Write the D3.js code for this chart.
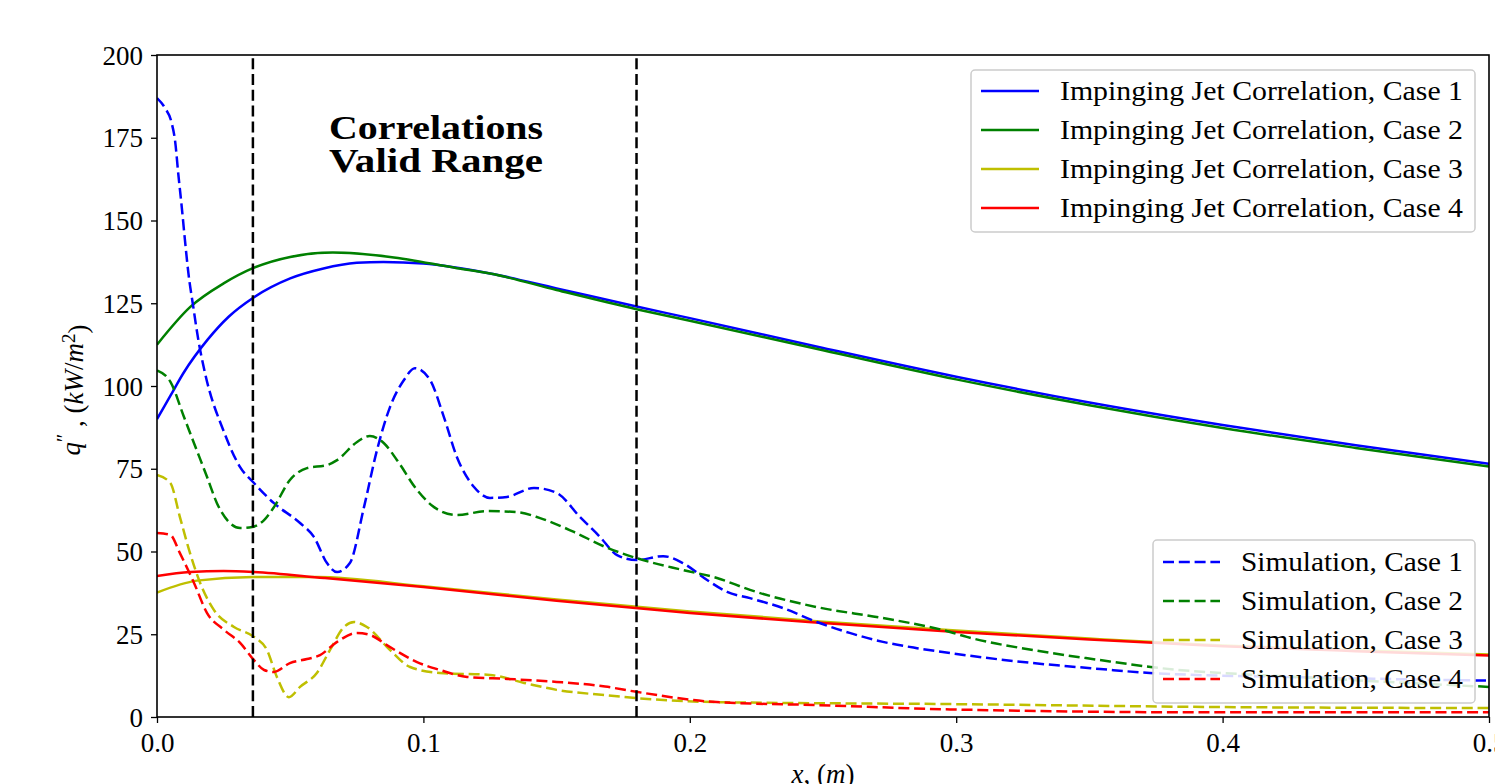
<!DOCTYPE html>
<html>
<head>
<meta charset="utf-8">
<script src="https://cdn.jsdelivr.net/npm/d3@7"></script>
<style>
  html, body { margin: 0; padding: 0; background: #fff; overflow: hidden; }
  svg text { font-family: "Liberation Serif", "Times New Roman", serif; }
</style>
</head>
<body>
<svg id="chart" width="1495" height="784"></svg>
<script>
// ---------------- data ----------------
const xTicks = [0.0, 0.1, 0.2, 0.3, 0.4, 0.5];
const yTicks = [0, 25, 50, 75, 100, 125, 150, 175, 200];
const validRange = [0.036, 0.18];

const corrCase1 = [[0,90],[0.005,97],[0.01,104],[0.019,114],[0.027,121],[0.036,126.6],[0.05,132.5],[0.0625,135.5],[0.075,137.2],[0.085,137.5],[0.1,137],[0.125,134],[0.15,129.5],[0.18,124],[0.2,120.5],[0.25,111.5],[0.3,102.8],[0.35,95],[0.4,88.2],[0.45,82.1],[0.5,76.5]];
const corrCase2 = [[0,112.5],[0.0125,123.9],[0.025,131],[0.036,135.6],[0.05,139],[0.066,140.3],[0.0875,139],[0.1126,135.6],[0.125,134],[0.15,129],[0.18,123.2],[0.2,119.7],[0.25,110.8],[0.3,102],[0.35,94.2],[0.4,87.3],[0.45,81.3],[0.5,75.7]];
const corrCase3 = [[0,37.6],[0.015,41.2],[0.036,42.3],[0.06,42.3],[0.1,39.5],[0.15,35.5],[0.2,31.9],[0.25,28.8],[0.3,26.1],[0.35,23.7],[0.4,21.6],[0.45,20.2],[0.5,18.9]];
const corrCase4 = [[0,42.6],[0.0124,43.8],[0.025,44.1],[0.0364,43.8],[0.0627,42],[0.1,39.3],[0.15,35.1],[0.2,31.4],[0.25,28.4],[0.3,25.7],[0.35,23.4],[0.4,21.4],[0.45,19.9],[0.5,18.6]];

const simCase1 = [[0,187],[0.003,184],[0.0055,179.5],[0.0068,174],[0.008,164],[0.0093,154],[0.0105,144],[0.0118,134],[0.0136,124],[0.0155,114],[0.018,104],[0.0252,86],[0.0312,75.5],[0.0364,70.7],[0.0439,64.6],[0.0537,58.6],[0.0589,54.4],[0.0638,46.5],[0.0676,43.8],[0.0724,46.5],[0.0777,63.4],[0.0826,80.7],[0.0875,93.7],[0.0927,101.8],[0.0968,105.4],[0.1025,101.8],[0.1077,90.6],[0.1126,78.5],[0.119,69.5],[0.125,66.2],[0.1314,66.5],[0.1415,69.2],[0.15,67.7],[0.1588,60.4],[0.1663,54.4],[0.1727,48.9],[0.18,47.4],[0.19,48.6],[0.1974,46.5],[0.2065,41.4],[0.214,37.8],[0.2226,35.9],[0.235,32.9],[0.2477,28.7],[0.26,25.4],[0.2725,22.7],[0.2853,20.8],[0.2977,19.3],[0.3288,16.3],[0.354,14.5],[0.3727,13.3],[0.43,12],[0.5,11]];
const simCase2 = [[0,104.7],[0.005,101.3],[0.0101,90.7],[0.0139,82.7],[0.0188,72.5],[0.0225,64.6],[0.0274,58.6],[0.0312,57.1],[0.0357,57.4],[0.0402,59.5],[0.0439,63.4],[0.0499,71.6],[0.0563,75.2],[0.0638,76.1],[0.0676,77.6],[0.0751,83.1],[0.0799,84.9],[0.0852,82.7],[0.0901,77.6],[0.0976,68.6],[0.104,63.4],[0.1126,61],[0.1239,62.2],[0.1351,61.9],[0.1438,60.1],[0.1565,55.9],[0.1682,51.4],[0.18,48],[0.1974,44.4],[0.2102,42],[0.2226,38.4],[0.2477,33.2],[0.2725,29.9],[0.2977,25.7],[0.304,24.2],[0.329,20.2],[0.354,17.2],[0.373,15.1],[0.43,12],[0.5,9.1]];
const simCase3 = [[0,73.1],[0.005,70.7],[0.0086,60.4],[0.0124,49.5],[0.0162,40.5],[0.0214,32.3],[0.0289,27.2],[0.0364,24.2],[0.0413,20.2],[0.045,12.1],[0.0495,6.0],[0.0537,9.1],[0.06,13.3],[0.0649,20.2],[0.0702,27.2],[0.074,28.7],[0.0788,27.2],[0.0875,20.2],[0.095,15.1],[0.1062,13.3],[0.125,12.7],[0.1378,10.3],[0.15,8.2],[0.1682,6.6],[0.18,5.7],[0.21,4.5],[0.2977,3.9],[0.4,3.0],[0.5,2.7]];
const simCase4 = [[0,55.6],[0.005,55],[0.0086,49.5],[0.0139,40.5],[0.0188,31.4],[0.0252,26.3],[0.0312,22.4],[0.0364,17.2],[0.0402,14.2],[0.0439,13.6],[0.0499,16.3],[0.0563,17.5],[0.0612,18.7],[0.0676,22.7],[0.0751,25.4],[0.0799,24.8],[0.0875,21.1],[0.0976,16.6],[0.1062,14.2],[0.1164,12.1],[0.1314,11.5],[0.15,10.6],[0.1682,9.2],[0.18,7.6],[0.21,4.5],[0.2477,3.6],[0.2977,2.3],[0.4,1.4],[0.5,1.4]];

const corrLabels = ["Impinging Jet Correlation, Case 1","Impinging Jet Correlation, Case 2","Impinging Jet Correlation, Case 3","Impinging Jet Correlation, Case 4"];
const simLabels = ["Simulation, Case 1","Simulation, Case 2","Simulation, Case 3","Simulation, Case 4"];
const annotationLines = ["Correlations", "Valid Range"];
const caseColors = ["#0000ff", "#008000", "#bfbf00", "#ff0000"];

// ---------------- layout ----------------
const svg = d3.select("#chart");
const L = 157, R = 1489, T = 55, B = 717;
const x = d3.scaleLinear().domain([0, 0.5]).range([L, R]);
const y = d3.scaleLinear().domain([0, 200]).range([B, T]);
const DASH = "11,4.8";

svg.append("defs").append("clipPath").attr("id", "clip")
  .append("rect").attr("x", L).attr("y", T).attr("width", R - L).attr("height", B - T);

const line = d3.line().x(d => x(d[0])).y(d => y(d[1])).curve(d3.curveMonotoneX);
const g = svg.append("g").attr("clip-path", "url(#clip)");

[corrCase1, corrCase2, corrCase3, corrCase4].forEach((s, i) => {
  g.append("path").datum(s).attr("d", line)
    .attr("fill", "none").attr("stroke", caseColors[i]).attr("stroke-width", 2.5);
});
[simCase1, simCase2, simCase3, simCase4].forEach((s, i) => {
  g.append("path").datum(s).attr("d", line)
    .attr("fill", "none").attr("stroke", caseColors[i]).attr("stroke-width", 2.5)
    .attr("stroke-dasharray", DASH);
});
validRange.forEach(v => {
  g.append("line").attr("x1", x(v)).attr("x2", x(v)).attr("y1", y(0)).attr("y2", y(200))
    .attr("stroke", "#000").attr("stroke-width", 2.5).attr("stroke-dasharray", DASH);
});

// ---------------- axes ----------------
const xAxis = d3.axisBottom(x).tickValues(xTicks).tickFormat(d3.format(".1f")).tickSizeOuter(0).tickSize(6);
const yAxis = d3.axisLeft(y).tickValues(yTicks).tickFormat(d3.format("d")).tickSizeOuter(0).tickSize(6).tickPadding(8);
const gx = svg.append("g").attr("transform", `translate(0,${B})`).call(xAxis);
const gy = svg.append("g").attr("transform", `translate(${L},0)`).call(yAxis);
[gx, gy].forEach(a => {
  a.select(".domain").remove();
  a.selectAll(".tick line").attr("stroke", "#000").attr("stroke-width", 1.3);
  a.selectAll(".tick text").attr("fill", "#000").style("font-size", "27px");
});
gy.selectAll(".tick text").attr("dy", "0.34em");
gx.selectAll(".tick text").attr("y", 35).attr("dy", 0);

// frame
svg.append("rect").attr("x", L).attr("y", T).attr("width", R - L).attr("height", B - T)
  .attr("fill", "none").attr("stroke", "#000").attr("stroke-width", 1.6);

// axis labels
const xl = svg.append("text").attr("x", (L + R) / 2).attr("y", 783).attr("text-anchor", "middle")
  .style("font-size", "27px");
xl.append("tspan").style("font-style", "italic").text("x");
xl.append("tspan").text(", (");
xl.append("tspan").style("font-style", "italic").text("m");
xl.append("tspan").text(")");

const yl = svg.append("text").attr("transform", `translate(80,${(T + B) / 2 + 4}) rotate(-90)`)
  .attr("text-anchor", "middle").style("font-size", "27px");
yl.append("tspan").style("font-style", "italic").text("q");
yl.append("tspan").attr("dy", "-0.45em").style("font-size", "20px").text("″");
yl.append("tspan").attr("dy", "0.45em").text(" , (");
yl.append("tspan").style("font-style", "italic").text("kW");
yl.append("tspan").text("/");
yl.append("tspan").style("font-style", "italic").text("m");
yl.append("tspan").attr("dy", "-0.45em").style("font-size", "19px").text("2");
yl.append("tspan").attr("dy", "0.45em").text(")");

// annotation
const ann = svg.append("text").attr("text-anchor", "middle").style("font-size", "33px").style("font-weight", "bold");
annotationLines.forEach((t, i) => {
  ann.append("tspan").attr("x", 436).attr("y", 139 + i * 33)
    .attr("textLength", 214).attr("lengthAdjust", "spacingAndGlyphs").text(t);
});

// ---------------- legends ----------------
function legend(box, labels, dashed, sampleX0, sampleX1, textX, rowY0, rowStep, fontSize, textW) {
  const lg = svg.append("g");
  lg.append("rect").attr("x", box[0]).attr("y", box[1]).attr("width", box[2] - box[0]).attr("height", box[3] - box[1])
    .attr("rx", 4).attr("fill", "#fff").attr("fill-opacity", 0.85).attr("stroke", "#cccccc").attr("stroke-width", 1.5);
  labels.forEach((lab, i) => {
    const yy = rowY0 + i * rowStep;
    const ln = lg.append("line").attr("x1", sampleX0).attr("x2", sampleX1).attr("y1", yy).attr("y2", yy)
      .attr("stroke", caseColors[i]).attr("stroke-width", 2.5);
    if (dashed) ln.attr("stroke-dasharray", DASH);
    lg.append("text").attr("x", textX).attr("y", yy).attr("dy", "0.34em").style("font-size", fontSize + "px")
      .attr("textLength", textW).attr("lengthAdjust", "spacingAndGlyphs").text(lab);
  });
}
legend([971, 70, 1475, 232], corrLabels, false, 981, 1039, 1060, 91, 39, 27, 403);
legend([1153, 540, 1475, 703], simLabels, true, 1163, 1220, 1241, 562, 39, 27, 222);
</script>
</body>
</html>
